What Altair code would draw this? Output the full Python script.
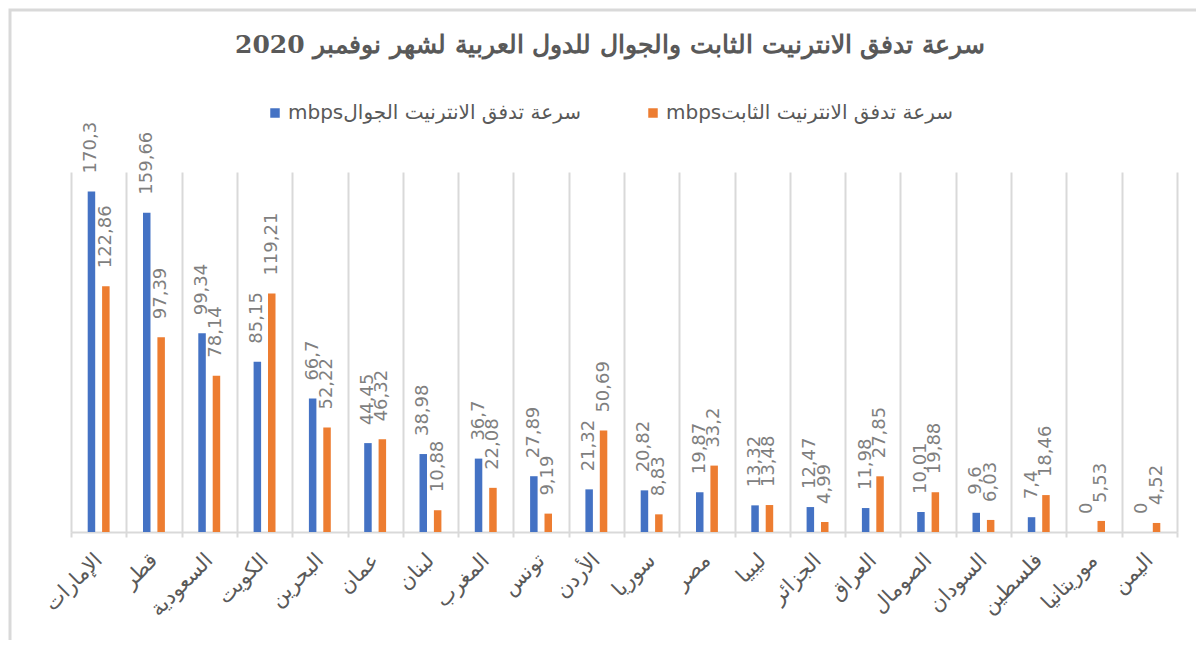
import altair as alt
import pandas as pd

countries = ["الإمارات", "قطر", "السعودية", "الكويت", "البحرين", "عمان", "لبنان", "المغرب",
             "تونس", "الأردن", "سوريا", "مصر", "ليبيا", "الجزائر", "العراق", "الصومال",
             "السودان", "فلسطين", "موريتانيا", "اليمن"]
mobile = [170.3, 159.66, 99.34, 85.15, 66.7, 44.45, 38.98, 36.7, 27.89, 21.32,
          20.82, 19.87, 13.32, 12.47, 11.98, 10.01, 9.6, 7.4, 0, 0]
fixed = [122.86, 97.39, 78.14, 119.21, 52.22, 46.32, 10.88, 22.08, 9.19, 50.69,
         8.83, 33.2, 13.48, 4.99, 27.85, 19.88, 6.03, 18.46, 5.53, 4.52]
series_names = ["mbpsسرعة تدفق الانترنيت الجوال", "mbpsسرعة تدفق الانترنيت الثابت"]
series_colors = ["#4472C4", "#ED7D31"]
title_text = "سرعة تدفق الانترنيت الثابت والجوال للدول العربية لشهر نوفمبر 2020"

rows = []
for name, vals in zip(series_names, [mobile, fixed]):
    for c, v in zip(countries, vals):
        rows.append({"country": c, "series": name, "value": v,
                     "label": f"{v:g}".replace(".", ",")})
df = pd.DataFrame(rows)

x_enc = alt.X("country:N", sort=countries, title=None,
              scale=alt.Scale(paddingInner=0, paddingOuter=0),
              axis=alt.Axis(labelAngle=315, labelAlign="right", labelBaseline="middle",
                            labelPadding=20, labelFontSize=21, labelFont="DejaVu Sans",
                            labelColor="#595959", labelOverlap=False, labelLimit=300,
                            domainColor="#d9d9d9", domainWidth=2,
                            tickColor="#d9d9d9", tickWidth=2, tickSize=5, tickBand="extent",
                            grid=True, gridColor="#d9d9d9", gridWidth=2))
xo_enc = alt.XOffset("series:N", sort=series_names,
                     scale=alt.Scale(paddingInner=0.16, paddingOuter=1))
y_enc = alt.Y("value:Q", scale=alt.Scale(domain=[0, 180]), axis=None)

bars = alt.Chart(df).mark_bar(width=7.5).encode(
    x=x_enc, xOffset=xo_enc, y=y_enc,
    color=alt.Color("series:N", sort=series_names,
                    scale=alt.Scale(domain=series_names, range=series_colors),
                    legend=alt.Legend(title=None, orient="none", direction="horizontal",
                                      legendX=194, legendY=-69, symbolType="square",
                                      symbolSize=90, labelFontSize=20, labelFont="DejaVu Sans",
                                      labelColor="#595959", labelLimit=500,
                                      columnPadding=62, labelOffset=3)),
)

labels = alt.Chart(df).mark_text(angle=270, align="left", baseline="middle", dx=18,
                                 fontSize=18, font="DejaVu Sans", color="#7f7f7f").encode(
    x=x_enc, xOffset=xo_enc, y=y_enc, text="label:N",
)

frame = alt.Chart(pd.DataFrame({"a": [0]})).mark_rect(
    filled=False, stroke="#d9d9d9", strokeWidth=3).encode(
    x=alt.value(-61), x2=alt.value(1300), y=alt.value(-162), y2=alt.value(700))

chart = alt.layer(frame, bars, labels).properties(
    width=1106, height=360,
    title=alt.TitleParams(title_text, fontSize=25, font="DejaVu Serif", fontWeight="bold",
                          color="#595959", anchor="middle", offset=-49, dx=-14),
    autosize=alt.AutoSizeParams(type="none"),
    padding={"left": 63, "top": 164, "right": 19, "bottom": 108},
).configure_view(stroke=None)

chart.save("out.html", embed_options={"renderer": "svg", "actions": False})
